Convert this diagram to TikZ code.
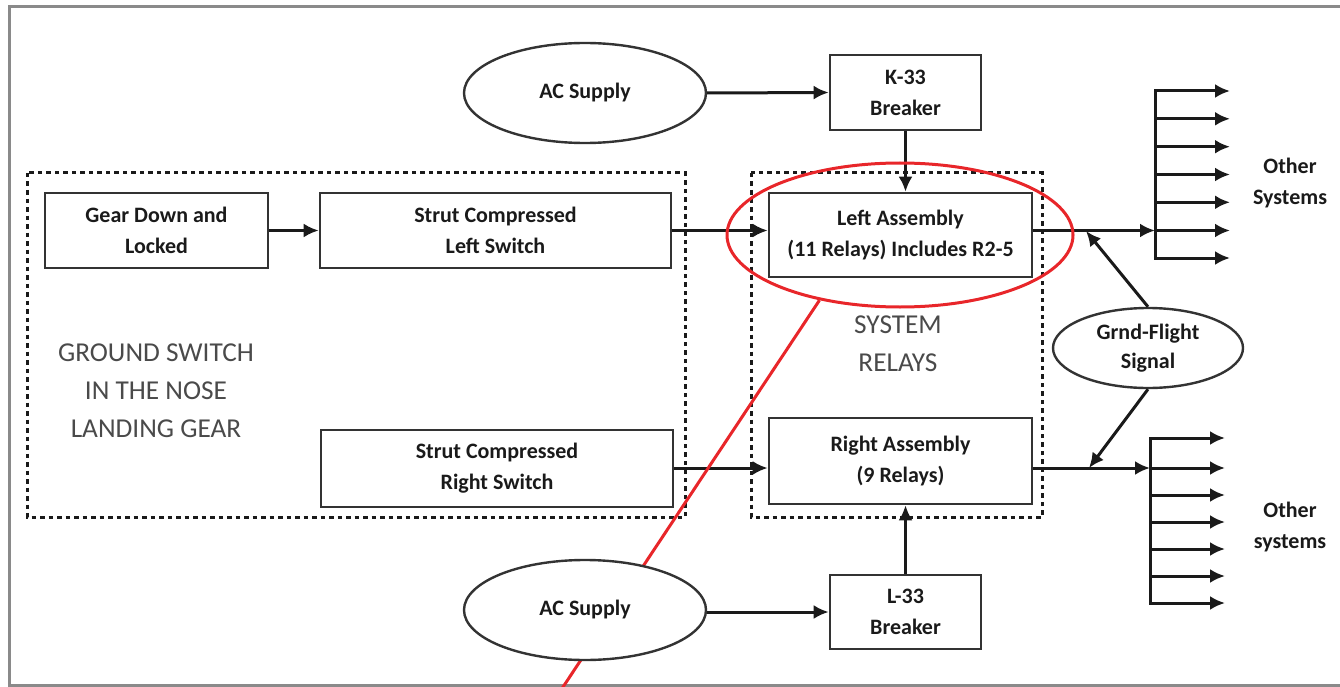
\documentclass[tikz,border=0pt]{standalone}
\usepackage{fontspec}
\setmainfont{Carlito}
\usetikzlibrary{arrows.meta,shapes.geometric}
\definecolor{ink}{HTML}{1A1A1A}
\definecolor{edge}{HTML}{333333}
\definecolor{frameGray}{HTML}{8A8A8A}
\definecolor{labelGray}{HTML}{4A4A4A}
\definecolor{hiliteRed}{HTML}{E8262A}
\newcommand\dgboxfont{\fontsize{22}{31}\selectfont\bfseries}
\newcommand\dggroupfont{\fontsize{27.3}{38}\selectfont}
\begin{document}
\begin{tikzpicture}[x=1pt,y=-1pt,
  box/.style={draw=edge, line width=2.6pt, align=center, inner sep=0pt, font=\dgboxfont, text=ink},
  oval/.style={ellipse, draw=edge, line width=2.4pt, fill=white, align=center, inner sep=0pt, font=\dgboxfont, text=ink},
  conn/.style={draw=ink, line width=3pt, -{Latex[length=15pt,width=14pt]}},
  plain/.style={draw=ink, line width=3pt},
  group/.style={draw=ink, line width=3pt, dash pattern=on 4.5pt off 4pt},
  grouplabel/.style={align=center, font=\dggroupfont, text=labelGray}]
\useasboundingbox (0,0) rectangle (1340,687);

% outer frame (top, left, bottom)
\draw[frameGray, line width=3pt] (1340,7) -- (9,7) -- (9,685) -- (1340,685);

% grouping boxes
\draw[group] (27,173) rectangle (685,517);
\draw[group] (751,173) rectangle (1042,517);
\node[grouplabel] (gsLabel) at (156,391) {GROUND SWITCH\\IN THE NOSE\\LANDING GEAR};
\node[grouplabel] (srLabel) at (898,344) {SYSTEM\\RELAYS};

% boxes
\node[box, minimum width=223pt, minimum height=75pt] (gear) at (156.5,230.5) {Gear Down and\\Locked};
\node[box, minimum width=351pt, minimum height=75pt] (strutL) at (495.5,230.5) {Strut Compressed\\Left Switch};
\node[box, minimum width=352pt, minimum height=77pt] (strutR) at (497,468.5) {Strut Compressed\\Right Switch};
\node[box, minimum width=263pt, minimum height=84pt] (leftA) at (900.5,235) {Left Assembly\\(11 Relays) Includes R2-5};
\node[box, minimum width=263pt, minimum height=86pt] (rightA) at (900.5,461) {Right Assembly\\(9 Relays)};
\node[box, minimum width=151pt, minimum height=75pt] (k33) at (905.5,92.5) {K-33\\Breaker};
\node[box, minimum width=151pt, minimum height=74pt] (l33) at (905.5,612) {L-33\\Breaker};

% ovals
\node[oval, minimum width=242pt, minimum height=100pt] (acTop) at (585,93) {AC Supply};
\node[oval, minimum width=190pt, minimum height=80pt, font=\fontsize{22}{29}\selectfont\bfseries] (gf) at (1148,348) {Grnd-Flight\\Signal};

% output buses
\foreach \i/\y in {1/91,2/118.8,3/146.7,4/174.5,5/202.3,6/230.5,7/258}{
  \coordinate (ua\i) at (1155,\y);
  \coordinate (ub\i) at (1230,\y);
  \draw[conn] (ua\i) -- (ub\i);
}
\draw[plain, line cap=rect] (ua1) -- (ua7);
\foreach \i/\y in {1/438,2/468,3/495,4/522,5/549,6/576,7/603}{
  \coordinate (la\i) at (1150,\y);
  \coordinate (lb\i) at (1225,\y);
  \draw[conn] (la\i) -- (lb\i);
}
\draw[plain, line cap=rect] (la1) -- (la7);
\node[font=\dgboxfont, align=center, text=ink] (osTop) at (1290,183) {Other\\Systems};
\node[font=\dgboxfont, align=center, text=ink] (osBot) at (1290,527) {Other\\systems};

% connectors
\draw[conn] (gear.east) -- (strutL.west);
\draw[conn] (strutL.east) -- (strutL.east -| leftA.west);
\draw[conn] (strutR.east |- la2) -- (rightA.west |- la2);
\draw[conn] (acTop.east) -- (k33.west);
\draw[conn] (k33.south) -- (leftA.north -| k33.south);
\draw[conn] (leftA.east |- ua6) -- (ua6);
\draw[conn] (rightA.east |- la2) -- (la2);
\draw[conn] (l33.north) -- (rightA.south -| l33.north);
\coordinate (gfUp) at (1086,231);
\coordinate (gfDn) at (1089,468);
\draw[conn] (gf.north) -- (gfUp);
\draw[conn] (gf.south) -- (gfDn);

% highlight around the left relay assembly
\node[ellipse, draw=hiliteRed, line width=3pt, minimum width=346pt, minimum height=144pt, inner sep=0pt] (hilite) at (900,235) {};
\coordinate (hiliteTail) at (561,690);
\draw[hiliteRed, line width=3pt] (hilite.219) -- (hiliteTail);

% lower supply drawn over the highlight line
\node[oval, minimum width=242pt, minimum height=100pt] (acBot) at (585,610) {AC Supply};
\draw[conn] (acBot.east |- l33.west) -- (l33.west);
\end{tikzpicture}
\end{document}
